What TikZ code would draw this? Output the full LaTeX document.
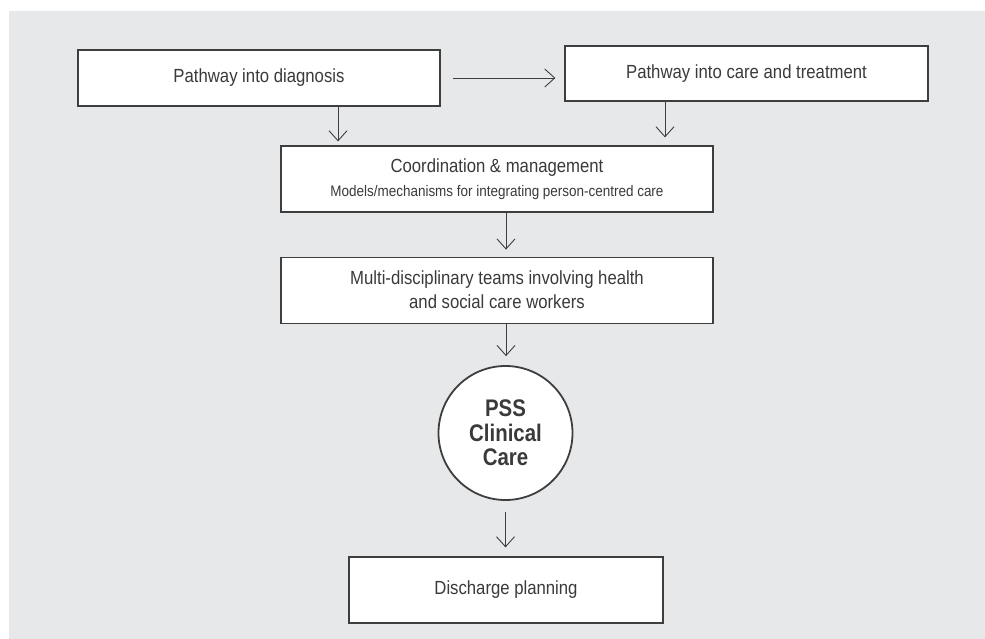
\documentclass[tikz,border=0pt]{standalone}
\usepackage{fontspec}
\setmainfont{Liberation Sans}[FakeStretch=0.88]
\newfontfamily\hubfont{Liberation Sans Bold}[FakeStretch=0.85]
\usetikzlibrary{arrows.meta,positioning}
\definecolor{panelgrey}{RGB}{231,232,234}
\definecolor{linegrey}{RGB}{62,62,62}
\definecolor{textgrey}{RGB}{58,58,58}

\begin{document}
\begin{tikzpicture}[x=1pt, y=-1pt,
    block/.style={rectangle, draw=linegrey, fill=white, line width=1.2pt, text=textgrey, align=center, inner sep=0pt, font=\fontsize{19}{24}\selectfont},
    hub/.style={circle, draw=linegrey, fill=white, line width=1.8pt, text=textgrey, align=center, minimum size=134pt, inner sep=0pt, font=\fontsize{24}{24.5}\hubfont},
    flow/.style={draw=linegrey, line width=0.9pt, -{Straight Barb[length=10pt,width=18pt]}}]
    \useasboundingbox (0,0) rectangle (985,639);
    \fill[panelgrey] (9,11) rectangle (985,639);

    \node [block, minimum width=362pt, minimum height=56pt] (diag) at (259,78) {Pathway into diagnosis};
    \node [block, minimum width=363pt, minimum height=55pt] (care) at (746.5,73.5) {Pathway into care and treatment};
    \node [block, minimum width=432pt, minimum height=66pt] (coord) at (497,179) {Coordination \& management\\\fontsize{15.3}{24}\selectfont Models/mechanisms for integrating person-centred care};
    \node [block, minimum width=432pt, minimum height=66pt, below=44pt of coord] (mdt) {Multi-disciplinary teams involving health\\and social care workers};
    \node [hub] (pss) at (505.5,433) {PSS\\Clinical\\Care};
    \node [block, minimum width=314pt, minimum height=66pt] (disch) at (506,590) {Discharge planning};

    \draw[flow, shorten <=12pt, shorten >=9pt] (diag.east) -- (diag.east -| care.west);
    \draw[flow, shorten >=4pt] ([xshift=79pt]diag.south) -- ([xshift=79pt]diag.south |- coord.north);
    \draw[flow, shorten >=8pt] ([xshift=-81.5pt]care.south) -- ([xshift=-81.5pt]care.south |- coord.north);
    \draw[flow, shorten >=7pt] ([xshift=9pt]coord.south) -- ([xshift=9pt]coord.south |- mdt.north);
    \draw[flow, shorten >=9pt] ([xshift=9pt]mdt.south) -- ([xshift=9pt]mdt.south |- pss.north);
    \draw[flow, shorten <=11pt, shorten >=9pt] (pss.south) -- (pss.south |- disch.north);
\end{tikzpicture}
\end{document}
